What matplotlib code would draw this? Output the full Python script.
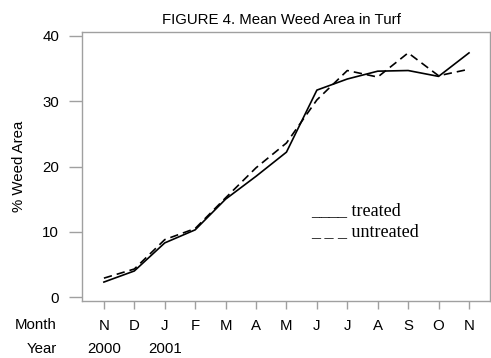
import matplotlib.pyplot as plt

# Mean weed area (%) by month, Nov 2000 - Nov 2001
months = ["N", "D", "J", "F", "M", "A", "M", "J", "J", "A", "S", "O", "N"]
years = ["2000", "2001"]
year_pos = [0, 2]
treated = [2.3, 4.0, 8.3, 10.3, 15.0, 18.5, 22.2, 31.7, 33.4, 34.6, 34.7, 33.8, 37.4]
untreated = [2.9, 4.3, 8.8, 10.5, 15.2, 19.8, 23.6, 30.2, 34.7, 33.7, 37.4, 33.9, 34.9]

grey = "#a0a0a0"
fs = 10.8

fig = plt.figure(figsize=(4.91, 3.58), dpi=100)
ax = fig.add_axes([82 / 491, 1 - 301 / 358, 408 / 491, 269 / 358])

x = list(range(len(months)))
ax.plot(x, treated, color="black", linewidth=1.2, linestyle="-")
ax.plot(x, untreated, color="black", linewidth=1.2, linestyle=(0, (5, 3)))

ax.set_xlim(-0.72, 12.69)
ax.set_ylim(-0.6, 40.6)

for s in ax.spines.values():
    s.set_color(grey)
    s.set_linewidth(1.0)

ax.set_yticks([0, 10, 20, 30, 40])
ax.set_xticks(x)
ax.set_xticklabels(months)
ax.tick_params(axis="y", length=9.5, width=1.0, color=grey, pad=7,
               labelsize=fs, labelfontfamily="Liberation Sans")
ax.tick_params(axis="x", length=6, width=1.0, color=grey, pad=7,
               labelsize=fs, labelfontfamily="Liberation Sans")

ax.set_ylabel("% Weed Area", fontsize=fs, family="Liberation Sans", labelpad=12)
fig.text(281 / 491, 1 - 20 / 358, "FIGURE 4. Mean Weed Area in Turf",
         ha="center", va="center", fontsize=fs, family="Liberation Sans")

# row labels under the axis
fig.text(57 / 491, 1 - 325 / 358, "Month", ha="right", va="center",
         fontsize=fs, family="Liberation Sans")
fig.text(57 / 491, 1 - 349 / 358, "Year", ha="right", va="center",
         fontsize=fs, family="Liberation Sans")
for yp, yr in zip(year_pos, years):
    ax.text(yp, -48 / 269, yr, transform=ax.get_xaxis_transform(), ha="center",
            va="center", fontsize=fs, family="Liberation Sans")

# legend as in the original, drawn with underscores
ax.text(0.562, 0.318, "____ treated", transform=ax.transAxes, ha="left",
        va="baseline", fontsize=13, family="Liberation Serif")
ax.text(0.562, 0.240, "_ _ _ untreated", transform=ax.transAxes, ha="left",
        va="baseline", fontsize=13, family="Liberation Serif")

fig.savefig("out.png", dpi=100)
